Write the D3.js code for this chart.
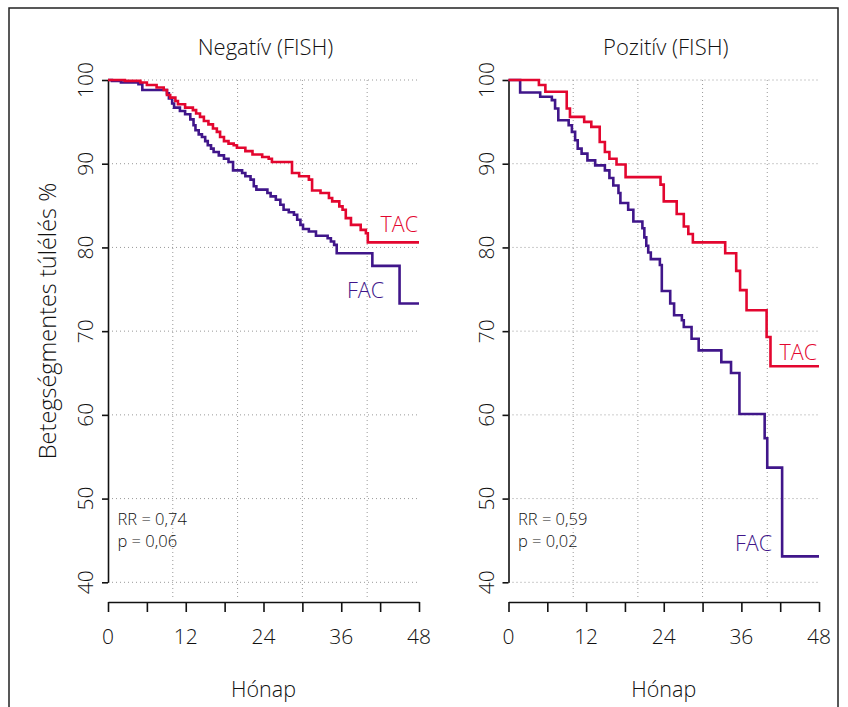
<!DOCTYPE html>
<html>
<head lang="en">
    <meta charset="UTF-8">
    <script src="https://cdn.jsdelivr.net/npm/d3@7/dist/d3.min.js" charset="utf-8"></script>
    <title></title>
    <style>
        body { margin: 0; background: #fff; }
        svg text { font-family: "Open Sans", "Noto Sans", sans-serif; font-weight: 300; fill: #111; }
    </style>
</head>
<body>
<div id="chart"></div>

<script>
    // panel titles and stats
    var panelTitles = ["Negatív (FISH)", "Pozitív (FISH)"];
    var rrLabels = ["RR = 0,74", "RR = 0,59"];
    var pLabels = ["p = 0,06", "p = 0,02"];
    var yTicks = [40, 50, 60, 70, 80, 90, 100];
    var xTicks = [0, 6, 12, 18, 24, 30, 36, 42, 48];
    var xGrid = [10, 20, 30, 40];

    // Kaplan-Meier steps, [month, survival %]
    var negTAC = [[0,100],[2.6,99.9],[5,99.7],[6,99.4],[7.5,99.1],[8.6,98.8],[9.1,98.2],[9.6,97.9],[10.4,97.5],[10.8,97.1],
        [11.9,96.7],[13.1,96.4],[13.6,96.0],[14.2,95.6],[14.8,95.1],[15.5,94.7],[16.2,94.2],[16.8,93.8],[17.3,93.2],[17.9,92.7],
        [18.6,92.4],[19.4,92.2],[19.9,91.9],[21.2,91.5],[22.3,91.1],[23.8,90.8],[24.8,90.6],[25.3,90.2],[28.4,88.9],[29.5,88.5],
        [31.0,88.1],[31.5,86.8],[32.8,86.5],[34.1,85.9],[34.6,85.5],[35.7,84.9],[36.2,84.5],[36.7,83.5],[37.5,82.7],[39.0,82.1],
        [39.8,81.7],[40.1,80.6],[48,80.6]];
    var negFAC = [[0,100],[0.6,99.9],[2,99.7],[4.7,99.5],[5.3,98.8],[9.1,98.4],[9.4,97.8],[9.9,97.2],[10.2,96.7],[11.1,96.3],
        [11.9,95.9],[12.7,95.3],[13.2,94.6],[13.5,94.0],[14.0,93.5],[14.5,93.2],[15.0,92.7],[15.4,92.2],[15.9,91.8],[16.3,91.4],
        [17.1,91.0],[17.9,90.6],[18.6,90.2],[19.3,89.2],[20.7,88.9],[21.2,88.5],[22.0,88.1],[22.5,87.3],[22.9,86.9],[24.6,86.5],
        [25.1,86.1],[25.9,85.7],[26.6,85.1],[27.1,84.5],[27.9,84.2],[28.7,83.9],[29.2,83.3],[29.7,82.7],[30.1,82.2],[31.0,81.9],
        [32.1,81.4],[33.9,81.1],[34.4,80.7],[34.9,80.3],[35.3,79.3],[40.8,77.8],[45.0,73.3],[48,73.3]];
    var posTAC = [[0,100],[4.7,99.4],[5.7,98.6],[9.0,96.6],[9.5,95.6],[11.7,95.0],[12.8,94.4],[14.1,92.6],[14.9,91.4],[15.6,90.6],
        [16.7,89.9],[18.1,88.4],[23.5,87.5],[24.0,85.5],[26.0,84.0],[27.1,82.5],[27.8,81.6],[28.5,80.6],[33.5,79.3],[35.2,77.2],
        [35.8,74.9],[36.8,72.5],[39.9,69.3],[40.5,65.8],[48,65.8]];
    var posFAC = [[0,100],[1.8,98.5],[4.9,98.0],[6.7,97.6],[7.2,96.6],[7.7,95.2],[9.3,94.6],[9.8,93.8],[10.3,92.8],[10.7,91.8],
        [11.3,91.2],[12.2,90.4],[13.4,89.8],[14.9,89.2],[15.6,88.3],[16.2,87.4],[17.0,86.5],[17.3,85.3],[18.5,84.5],[19.3,83.1],
        [20.7,82.3],[21.0,81.2],[21.3,80.2],[21.6,79.4],[22.0,78.6],[23.4,77.9],[23.7,74.8],[25.0,73.3],[25.6,71.9],[26.8,71.3],
        [27.1,70.5],[28.3,69.1],[29.4,67.7],[32.9,66.3],[34.4,65.0],[35.7,60.1],[39.6,57.2],[40.0,53.7],[42.3,43.1],[48,43.1]];

    var series = [[negTAC, negFAC], [posTAC, posFAC]];
    var red = "#e3062f", purple = "#40168a";

    var svg = d3.select("#chart").append("svg")
            .attr("width", 848).attr("height", 707);

    // frame
    svg.append("rect").attr("x", 9).attr("y", 8).attr("width", 829).attr("height", 720)
            .attr("fill", "none").attr("stroke", "#222").attr("stroke-width", 1.5);

    var y = d3.scaleLinear().domain([40, 100]).range([582.3, 80]);
    var xRanges = [[108, 419], [508.5, 819]];

    // label spots (pixel coords per panel)
    var tacLab = [[418, 232], [817, 359.5]];
    var facLab = [[384, 298], [772, 551]];

    series.forEach(function(s, i) {
        var x = d3.scaleLinear().domain([0, 48]).range(xRanges[i]);
        var g = svg.append("g");

        // grid
        g.selectAll(".hg").data(yTicks).enter().append("line")
                .attr("x1", x(0)).attr("x2", x(48) + 1)
                .attr("y1", function(d){ return y(d); }).attr("y2", function(d){ return y(d); })
                .attr("stroke", "#999").attr("stroke-width", 1).attr("stroke-dasharray", "1,3");
        g.selectAll(".vg").data(xGrid).enter().append("line")
                .attr("x1", function(d){ return x(d); }).attr("x2", function(d){ return x(d); })
                .attr("y1", y(100)).attr("y2", y(40) + 16)
                .attr("stroke", "#999").attr("stroke-width", 1).attr("stroke-dasharray", "1,3");

        // y axis
        var ya = g.append("g").attr("transform", "translate(" + x(0) + ",0)")
                .call(d3.axisLeft(y).tickValues(yTicks).tickSize(6).tickSizeOuter(0).tickFormat(""));
        ya.selectAll("path, line").attr("stroke", "#111").attr("stroke-width", 1.6);
        g.selectAll(".yl").data(yTicks).enter().append("text")
                .attr("transform", function(d){ return "translate(" + (x(0) - 15) + "," + y(d) + ") rotate(-90)"; })
                .attr("text-anchor", "middle").style("font-size", "21px")
                .text(function(d){ return d; });

        // x axis, detached below
        var xa = g.append("g").attr("transform", "translate(0,602)")
                .call(d3.axisBottom(x).tickValues(xTicks).tickSize(10).tickSizeOuter(0).tickFormat(""));
        xa.selectAll("path, line").attr("stroke", "#111").attr("stroke-width", 1.6);
        g.selectAll(".xl").data(xTicks.filter(function(d){ return d % 12 === 0; })).enter().append("text")
                .attr("x", function(d){ return x(d); }).attr("y", 644)
                .attr("text-anchor", "middle").style("font-size", "21px")
                .text(function(d){ return d; });

        g.append("text").attr("x", (x(0) + x(48)) / 2).attr("y", 697)
                .attr("text-anchor", "middle").style("font-size", "21.5px").text("Hónap");
        g.append("text").attr("x", (x(0) + x(48)) / 2 + 2).attr("y", 55)
                .attr("text-anchor", "middle").style("font-size", "22px").text(panelTitles[i]);

        // curves
        var line = d3.line()
                .x(function(d){ return x(d[0]); })
                .y(function(d){ return y(d[1]); })
                .curve(d3.curveStepAfter);
        g.append("path").datum(s[1]).attr("d", line)
                .attr("fill", "none").attr("stroke", purple).attr("stroke-width", 2.6);
        g.append("path").datum(s[0]).attr("d", line)
                .attr("fill", "none").attr("stroke", red).attr("stroke-width", 2.6);

        g.append("text").attr("x", tacLab[i][0]).attr("y", tacLab[i][1])
                .attr("text-anchor", "end").style("font-size", "21.5px").style("fill", red).text("TAC");
        g.append("text").attr("x", facLab[i][0]).attr("y", facLab[i][1])
                .attr("text-anchor", "end").style("font-size", "21.5px").style("fill", purple).text("FAC");

        // RR and p, two lines
        g.append("text").attr("x", x(0) + 9.5).attr("y", 524.5).style("font-size", "16.5px").text(rrLabels[i]);
        g.append("text").attr("x", x(0) + 9.5).attr("y", 547).style("font-size", "16.5px").text(pLabels[i]);
    });

    svg.append("text")
            .attr("transform", "translate(56,321) rotate(-90)")
            .attr("text-anchor", "middle").style("font-size", "23.5px")
            .text("Betegségmentes túlélés %");
</script>
</body>
</html>
